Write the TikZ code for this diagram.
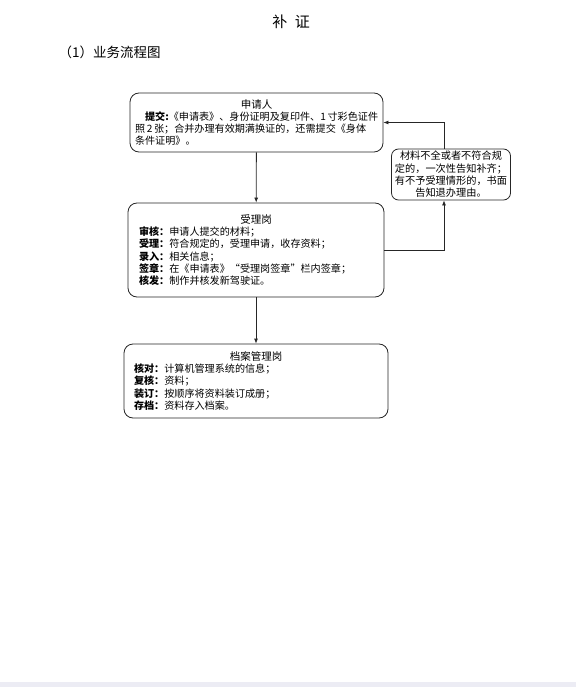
\documentclass[tikz,border=0pt]{standalone}
\usepackage{fontspec}
\setmainfont{Noto Sans CJK SC}
\usepackage{xcolor}
\definecolor{pageline}{RGB}{236,236,244}
\usetikzlibrary{arrows.meta,positioning,calc}
\tikzset{
  flowbox/.style={draw=black!85, line width=0.8pt, rounded corners=9pt, inner xsep=5pt, inner ysep=2pt, font=\fontsize{10.1}{12.2}\selectfont},
  notebox/.style={draw=black!85, line width=0.8pt, rounded corners=7pt, inner xsep=2pt, inner ysep=2pt, align=center, font=\fontsize{10.2}{12.3}\selectfont},
  flowarrow/.style={draw=black!85, line width=0.8pt, -{Latex[length=5pt,width=4pt]}}
}
\newcommand{\boxhead}[1]{{\centering\fontsize{10.5}{14}\selectfont #1\par}\raggedright}
\begin{document}
\begin{tikzpicture}[x=1pt,y=-1pt]
  \useasboundingbox (0,0) rectangle (576,687);
  \fill[pageline] (0,682) rectangle (576,687);

  % Page headings
  \node[font=\fontsize{15}{18}\selectfont] (title) at (291,22) {补\hspace{0.5em}证};
  \node[font=\fontsize{13.5}{16}\selectfont, anchor=west] (heading) at (55,52) {（1）业务流程图};

  % Applicant
  \node[flowbox, text width=243pt, minimum height=59pt] (apply) at (256.5,122.5) {%
    \boxhead{申请人}%
    \hspace*{1em}\textbf{提交:}《申请表》、身份证明及复印件、1\,寸彩色证件\\
    照\,2\,张；合并办理有效期满换证的，还需提交《身体\\
    条件证明》。};

  % Acceptance post
  \node[flowbox, text width=246pt, minimum height=94pt] (accept) at (256,250) {%
    \boxhead{受理岗}%
    \hspace*{6pt}\textbf{审核：}申请人提交的材料；\\
    \hspace*{6pt}\textbf{受理：}符合规定的，受理申请，收存资料；\\
    \hspace*{6pt}\textbf{录入：}相关信息；\\
    \hspace*{6pt}\textbf{签章：}在《申请表》“受理岗签章”栏内签章；\\
    \hspace*{6pt}\textbf{核发：}制作并核发新驾驶证。};

  % Archive post
  \node[flowbox, text width=254pt, minimum height=74pt] (archive) at (256,381) {%
    \boxhead{档案管理岗}%
    \hspace*{5pt}\textbf{核对：}计算机管理系统的信息；\\
    \hspace*{5pt}\textbf{复核：}资料；\\
    \hspace*{5pt}\textbf{装订：}按顺序将资料装订成册；\\
    \hspace*{5pt}\textbf{存档：}资料存入档案。};

  % Rejection note
  \node[notebox, minimum width=119pt, minimum height=51pt] (notice) at (451,174.5) {%
    材料不全或者不符合规\\定的，一次性告知补齐；\\有不予受理情形的，书面\\告知退办理由。};

  % Connectors
  \draw[flowarrow] (apply) -- (accept);
  \draw[flowarrow] (accept) -- (archive);
  \draw[flowarrow] (accept.east) -| ([xshift=-7pt]notice.south);
  \draw[flowarrow] ([xshift=-7pt]notice.north) |- (apply.east);
\end{tikzpicture}
\end{document}
